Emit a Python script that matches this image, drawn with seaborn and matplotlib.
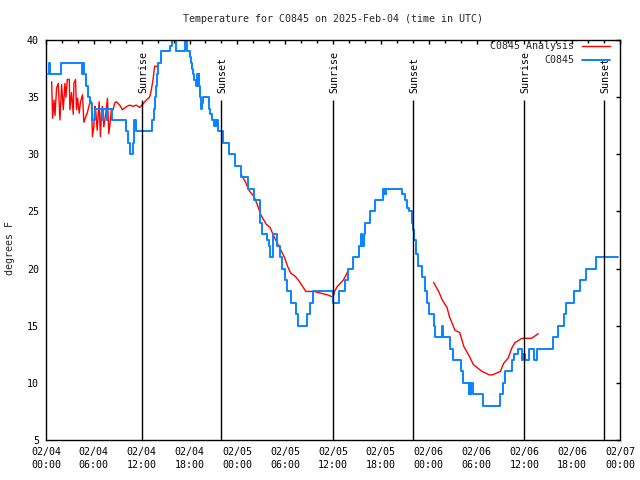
import numpy as np
import pandas as pd
import matplotlib
matplotlib.use("Agg")
import matplotlib.pyplot as plt
import matplotlib.dates as mdates
from matplotlib.lines import Line2D
import seaborn as sns

# ---------------- data (hours after 2025-02-04 00:00 UTC, degrees F) -------------
blue_h = [0.25,0.35,0.5,1.9,4.5,4.6,4.75,5.0,5.25,5.5,
          5.75,6.2,7.0,7.1,7.6,7.7,8.3,10.0,10.25,10.5,
          10.9,11.0,11.1,11.25,13.35,13.5,13.65,13.8,13.9,14.05,
          14.4,15.5,15.8,16.25,17.45,17.7,18.0,18.15,18.3,18.45,
          18.6,18.8,18.95,19.05,19.15,19.25,19.35,19.45,19.6,19.75,
          20.4,20.6,20.85,21.05,21.2,21.3,21.45,21.55,22.15,22.95,
          23.65,24.45,25.4,26.15,26.8,27.15,27.7,27.95,28.15,28.45,
          29.0,29.35,29.65,30.0,30.25,30.75,31.35,31.6,32.8,33.1,
          33.5,36.0,36.75,37.5,37.85,38.55,39.3,39.45,39.6,39.85,
          40.05,40.7,41.25,42.25,42.4,42.5,42.6,42.7,44.7,45.0,
          45.3,45.55,45.85,46.0,46.2,46.45,46.7,47.15,47.55,47.85,
          48.05,48.7,48.85,49.65,49.8,50.65,51.05,52.05,52.35,53.0,
          53.1,53.25,53.35,53.5,54.85,56.95,57.3,57.6,58.45,58.75,
          59.15,59.75,59.85,60.1,60.6,61.2,61.65,63.55,64.25,65.0,
          65.2,66.2,66.95,67.75,68.95,71.75]
blue_t = [37,38,37,38,37,38,37,36,35,34.5,
          33,34,33,34,33,34,33,32,31,30,
          31,32,33,32,33,34,35,36,37,38,
          39,39.5,41,39,41,39,38.5,38,37.5,37,
          36.5,36,37,36,37,36,35,34,34.5,35,
          34,33.5,33,32.5,33,32.5,33,32,31,30,
          29,28,27,26,24,23,22.5,22,21,23,
          22,21,20,19,18,17,16,15,16,17,
          18,17,18,19,20,21,22,23,22,23,
          24,25,26,27,26.5,27,26.5,27,26.5,26,
          25.3,25,24,23.4,22.5,21.3,20.2,19.3,18,17,
          16,15,14,15,14,13,12,11,10,9,
          10,9,10,9,8,9,10,11,12,12.5,
          13,12,12.5,12,13,12,13,14,15,16,
          17,18,19,20,21,21]

red1_h = [0.71,0.83,1.0,1.125,1.33,1.54,1.75,1.96,2.17,2.375,
          2.5,2.67,2.92,3.0,3.2,3.42,3.5,3.7,3.83,3.96,
          4.17,4.33,4.58,4.75,5.0,5.17,5.42,5.58,5.7,5.83,
          6.0,6.125,6.25,6.42,6.67,6.83,6.96,7.08,7.25,7.5,
          7.71,7.875,8.08,8.2,8.42,8.625,8.83,9.25,9.58,9.875,
          10.17,10.5,10.9,11.33,11.75,12.17,12.58,13.0,13.2,13.42,
          13.625,14.04]
red1_t = [36.35,33.15,34.75,33.4,35.8,36.2,33.0,36.1,33.9,36.2,
          35.0,36.55,36.55,33.9,35.4,33.5,36.2,36.55,33.9,34.9,
          33.6,34.6,35.2,32.8,33.3,33.6,34.3,34.75,34.5,31.55,
          32.4,34.2,33.75,32.1,34.6,31.55,33.6,34.2,32.4,33.6,
          34.9,31.8,33.0,33.9,33.9,34.5,34.6,34.3,33.9,34.05,
          34.2,34.3,34.2,34.3,34.1,34.4,34.75,35.0,35.6,36.5,
          37.7,37.7]
red2_h = [24.5,25.0,25.5,26.1,26.5,26.95,27.6,28.1,28.6,29.25,29.9,30.3,
          30.7,31.3,31.75,32.6,33.6,35.3,36.0,36.2,36.5,37.3,37.9]
red2_t = [28.2,27.6,26.8,26.3,25.6,24.7,23.9,23.6,22.8,21.9,21.0,20.2,
          19.6,19.3,18.9,18.0,18.0,17.7,17.5,18.0,18.4,19.0,19.8]
red3_h = [48.6,49.25,49.7,50.3,50.6,51.3,51.9,52.4,53.2,53.6,54.7,
          55.6,56.0,57.0,57.4,58.0,58.4,58.8,59.7,60.9,61.75]
red3_t = [18.8,18.0,17.25,16.6,15.8,14.6,14.4,13.2,12.2,11.6,11.0,
          10.7,10.7,11.0,11.7,12.2,13.0,13.5,13.9,13.9,14.3]

sun_h = [12, 22, 36, 46, 60, 70]
sun_labels = ["Sunrise", "Sunset", "Sunrise", "Sunset", "Sunrise", "Sunset"]

t0 = pd.Timestamp("2025-02-04 00:00")
def to_time(hours):
    return t0 + pd.to_timedelta(np.asarray(hours, dtype=float), unit="h")

# ---------------- style ----------------
sns.set_style("white")
plt.rcParams["font.family"] = ["DejaVu Sans Mono"]
plt.rcParams["font.size"] = 7.2

RED = "#ff0000"
BLUE = "#0a84ff"

fig = plt.figure(figsize=(6.4, 4.8), dpi=100)
ax = fig.add_axes([46/640, 40/480, 574/640, 400/480])

blue_df = pd.DataFrame({"time": to_time(blue_h), "temp": blue_t})
for hh, tt in [(red1_h, red1_t), (red2_h, red2_t), (red3_h, red3_t)]:
    d = pd.DataFrame({"time": to_time(hh), "temp": tt})
    sns.lineplot(data=d, x="time", y="temp", color=RED, lw=1.0,
                 estimator=None, sort=False, ax=ax)
sns.lineplot(data=blue_df, x="time", y="temp", color=BLUE, lw=1.4,
             estimator=None, sort=False, drawstyle="steps-post", ax=ax)

# sunrise / sunset markers
sun_t = to_time(sun_h)
ax.vlines(sun_t, 5, 34.75, colors="black", lw=1.0)
for t, lab in zip(sun_t, sun_labels):
    ax.text(t + pd.Timedelta(minutes=10), 35.4, lab, rotation=90,
            ha="center", va="bottom", fontsize=7.2, color="black")

ax.set_xlim(t0, t0 + pd.Timedelta(hours=72))
ax.set_ylim(5, 40)
ax.set_yticks(np.arange(5, 41, 5))
ax.xaxis.set_major_locator(mdates.HourLocator(byhour=range(0, 24, 6)))
ax.xaxis.set_minor_locator(mdates.HourLocator(byhour=range(0, 24, 2)))
ax.xaxis.set_major_formatter(mdates.DateFormatter("%m/%d\n%H:%M"))
ax.tick_params(which="both", direction="in", top=True, right=True,
               labelsize=7.2, colors="black")
ax.tick_params(which="major", length=3.2, width=1)
ax.tick_params(which="minor", length=2.0, width=1)
ax.tick_params(axis="x", which="major", pad=5)
ax.tick_params(axis="y", which="major", pad=5)
for lab in ax.get_xticklabels():
    lab.set_linespacing(1.35)
ax.set_xlabel("")
ax.set_ylabel("")
for s in ax.spines.values():
    s.set_color("black")
    s.set_linewidth(1)

handles = [Line2D([], [], color=RED, lw=1.0), Line2D([], [], color=BLUE, lw=1.4)]
ax.legend(handles, ["C0845 Analysis", "C0845"], loc="upper right",
          bbox_to_anchor=(0.983, 0.997), frameon=False, markerfirst=False,
          handlelength=2.8, handletextpad=0.8, labelspacing=0.4,
          borderpad=0, borderaxespad=0, fontsize=7.2)

fig.text(333/640, 1 - 19/480, "Temperature for C0845 on 2025-Feb-04 (time in UTC)",
         ha="center", va="center", fontsize=7.2)
fig.text(10/640, 1 - 248/480, "degrees F", rotation=90, ha="center", va="center",
         fontsize=7.2)

fig.savefig("out.png", dpi=100)
